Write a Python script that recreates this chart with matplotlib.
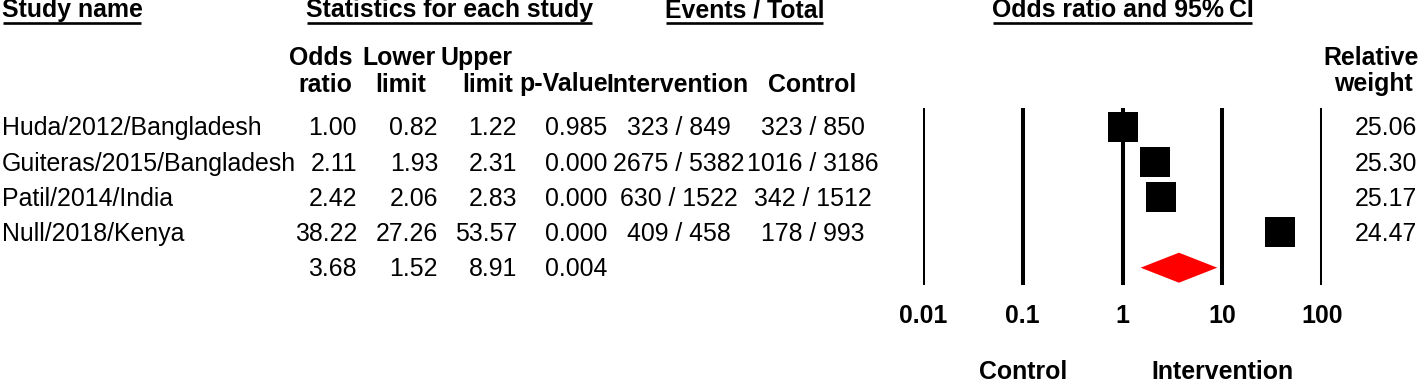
import numpy as np
import matplotlib.pyplot as plt
from matplotlib.transforms import blended_transform_factory

plt.rcParams['font.family'] = ['Liberation Sans', 'DejaVu Sans']

# -----------------------------
# Data
# -----------------------------
studies = ["Huda/2012/Bangladesh", "Guiteras/2015/Bangladesh",
           "Patil/2014/India", "Null/2018/Kenya"]
odds_ratio = [1.00, 2.11, 2.42, 38.22]
lower_limit = [0.82, 1.93, 2.06, 27.26]
upper_limit = [1.22, 2.31, 2.83, 53.57]
p_values = [0.985, 0.000, 0.000, 0.000]
int_events = [323, 2675, 630, 409]
int_total = [849, 5382, 1522, 458]
ctl_events = [323, 1016, 342, 178]
ctl_total = [850, 3186, 1512, 993]
rel_weight = [25.06, 25.30, 25.17, 24.47]

pooled_or = 3.68
pooled_lower = 1.52
pooled_upper = 8.91
pooled_p = 0.004

axis_ticks = [0.01, 0.1, 1, 10, 100]
axis_labels = ["0.01", "0.1", "1", "10", "100"]

# -----------------------------
# Layout (pixels)
# -----------------------------
W, H = 1418, 385
FS = 17.9
row0, row_step = 126.5, 35.3     # visual centre of first row, spacing
base_off = 8.8                   # centre -> baseline

fig = plt.figure(figsize=(W / 100, H / 100), dpi=100)

# forest plot axes: 0.01 .. 100 spans x = 923 .. 1322 px, y = 100 .. 300 px
fx0, fx1, fy0, fy1 = 923, 1322, 100, 300
ax = fig.add_axes([fx0 / W, (H - fy1) / H, (fx1 - fx0) / W, (fy1 - fy0) / H])
ax.set_xscale('log')
ax.set_xlim(0.01, 100)
ax.set_ylim((fy1 - row0) / row_step, (fy0 - row0) / row_step)
for s in ax.spines.values():
    s.set_visible(False)
ax.set_yticks([])
ax.set_xticks(axis_ticks, axis_labels, fontsize=FS, fontweight='bold')
ax.xaxis.set_minor_locator(plt.NullLocator())
ax.tick_params(axis='x', length=0, pad=3)
ax.patch.set_alpha(0)

ax.vlines(axis_ticks, (108 - row0) / row_step, (285 - row0) / row_step,
          color='black', lw=2.9, zorder=1)

rows = np.arange(len(studies))
ax.hlines(rows, lower_limit, upper_limit, color='black', lw=1.2, zorder=2)
max_w = max(rel_weight)
for i, (o, w) in enumerate(zip(odds_ratio, rel_weight)):
    ax.plot(o, i, marker='s', color='black', mew=0,
            markersize=21.4 * np.sqrt(w / max_w), zorder=3)

# pooled diamond
k = len(studies)
dh = 15 / row_step
ax.fill([pooled_lower, pooled_or, pooled_upper, pooled_or],
        [k, k - dh, k, k + dh], color='#ff0000', lw=0, zorder=3)

# -----------------------------
# Text overlay
# -----------------------------
txt = fig.add_axes([0, 0, 1, 1])
txt.set_xlim(0, W)
txt.set_ylim(H, 0)
txt.axis('off')


def base(i):
    return row0 + row_step * i + base_off


# top headers (underlined)
headers = []
headers.append(txt.text(2, 17, "Study name", fontsize=FS, fontweight='bold',
                        ha='left', va='baseline'))
headers.append(txt.text(450, 17, "Statistics for each study", fontsize=FS,
                        fontweight='bold', ha='center', va='baseline'))
headers.append(txt.text(745, 17, "Events / Total", fontsize=FS,
                        fontweight='bold', ha='center', va='baseline'))
headers.append(txt.text(1123, 17, "Odds ratio and 95%\u2009CI", fontsize=FS,
                        fontweight='bold', ha='center', va='baseline'))

# column headers
hb1, hb2 = 65, 91.5
bold = dict(fontsize=FS, fontweight='bold', va='baseline')
txt.text(352, hb1, "Odds", ha='right', **bold)
txt.text(352, hb2, "ratio", ha='right', **bold)
txt.text(399, hb1, "Lower", ha='center', **bold)
txt.text(401, hb2, "limit", ha='center', **bold)
txt.text(513, hb1, "Upper", ha='right', **bold)
txt.text(513, hb2, "limit", ha='right', **bold)
txt.text(608, hb2, "p-Value", ha='right', **bold)
txt.text(677, hb2, "Intervention", ha='center', **bold)
txt.text(812, hb2, "Control", ha='center', **bold)
txt.text(1371, hb1, "Relative", ha='center', **bold)
txt.text(1373, hb2, "weight", ha='center', **bold)

norm = dict(fontsize=FS, va='baseline')
for i in range(len(studies)):
    y = base(i)
    txt.text(2, y, studies[i], ha='left', **norm)
    txt.text(357, y, f"{odds_ratio[i]:.2f}", ha='right', **norm)
    txt.text(438, y, f"{lower_limit[i]:.2f}", ha='right', **norm)
    txt.text(517, y, f"{upper_limit[i]:.2f}", ha='right', **norm)
    txt.text(607, y, f"{p_values[i]:.3f}", ha='right', **norm)
    txt.text(679, y, f"{int_events[i]} / {int_total[i]}", ha='center', **norm)
    txt.text(813, y, f"{ctl_events[i]} / {ctl_total[i]}", ha='center', **norm)
    txt.text(1417, y, f"{rel_weight[i]:.2f}", ha='right', **norm)

y = base(k)
txt.text(357, y, f"{pooled_or:.2f}", ha='right', **norm)
txt.text(438, y, f"{pooled_lower:.2f}", ha='right', **norm)
txt.text(517, y, f"{pooled_upper:.2f}", ha='right', **norm)
txt.text(607, y, f"{pooled_p:.3f}", ha='right', **norm)

# favours labels under the axis
trans = blended_transform_factory(ax.transData, txt.transData)
txt.text(0.1, 379, "Control", transform=trans, ha='center', **bold)
txt.text(10, 379, "Intervention", transform=trans, ha='center', **bold)

# underline the top headers
fig.canvas.draw()
renderer = fig.canvas.get_renderer()
inv = txt.transData.inverted()
for t in headers:
    bb = t.get_window_extent(renderer)
    (x0, _), (x1, _) = inv.transform([[bb.x0, bb.y0], [bb.x1, bb.y1]])
    txt.plot([x0 + 1, x1 - 2], [23, 23], color='black', lw=1.9,
             solid_capstyle='butt')

fig.savefig("out.png", dpi=100)
